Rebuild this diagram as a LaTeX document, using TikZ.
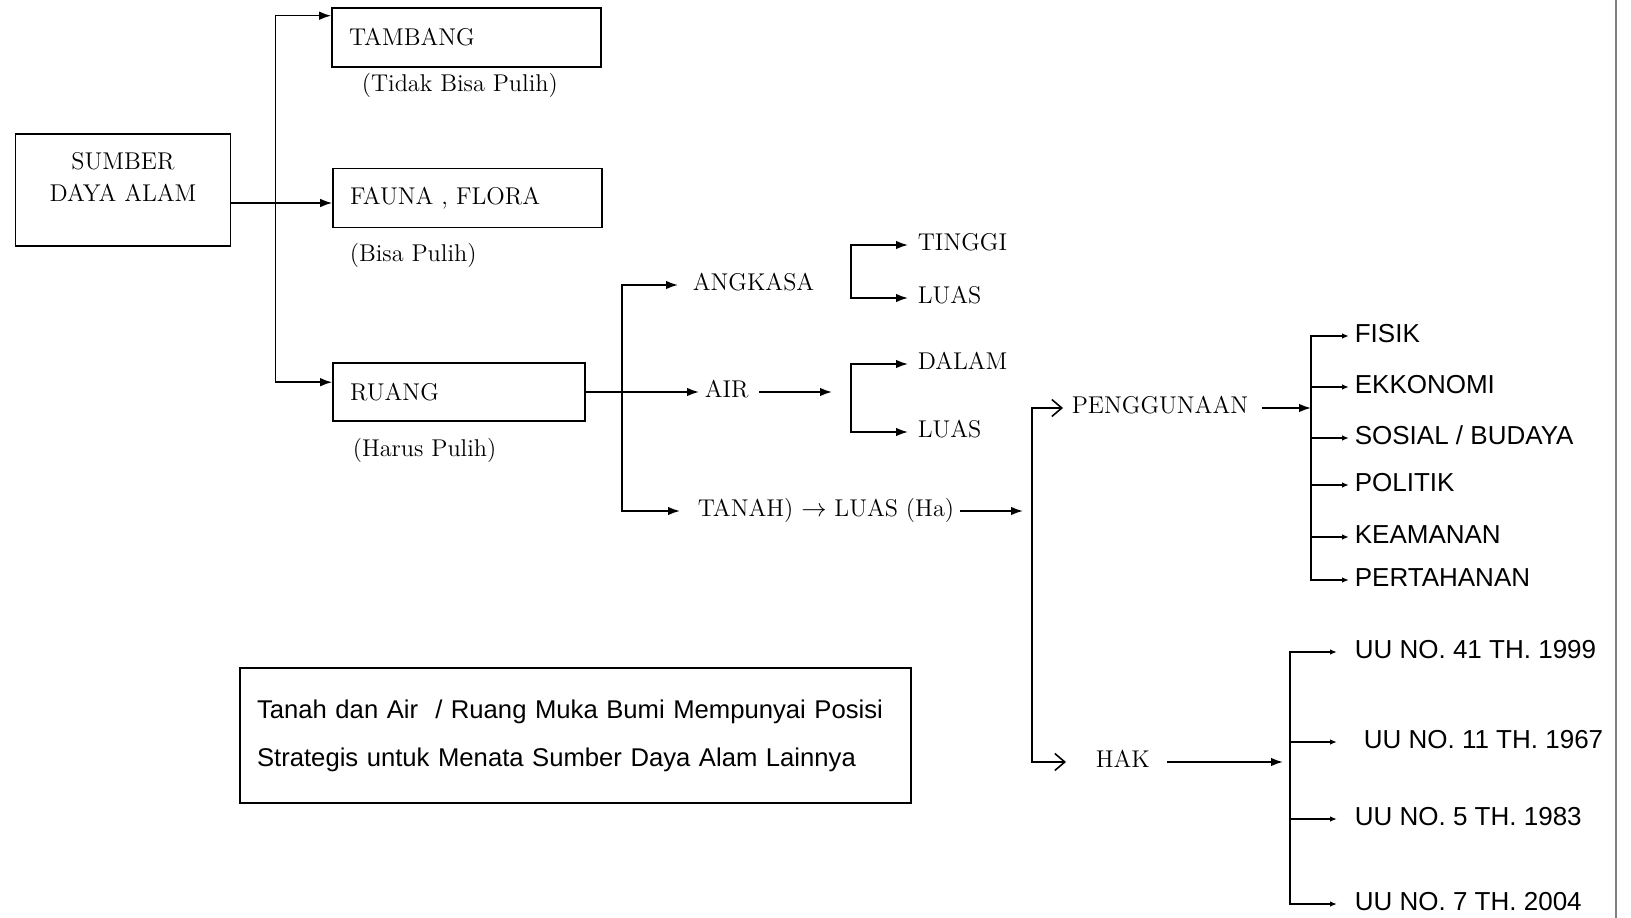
\documentclass[tikz,border=0pt]{standalone}
\usepackage{fontspec}
\newfontfamily\sansfnt{Liberation Sans}
\usetikzlibrary{arrows.meta, positioning, calc}

\tikzset{
  box/.style={draw, inner xsep=0.34cm, align=left, font=\fontsize{13.8}{16}\selectfont},
  lbl/.style={font=\fontsize{13.8}{16}\selectfont, inner sep=0pt, anchor=west, text height=0.68em, text depth=0pt},
  slbl/.style={font=\sansfnt\fontsize{14.8}{17}\selectfont, inner sep=0pt, anchor=west, text height=0.72em, text depth=0pt},
  big/.style={-{Latex[length=2.4mm,width=1.7mm]}},
  small/.style={-{Latex[length=1.4mm,width=1.1mm]}},
  open/.style={-{Straight Barb[length=2mm,width=3.4mm]}},
}

\begin{document}
\begin{tikzpicture}[x=0.02cm, y=-0.02cm, line width=0.9pt]
  \useasboundingbox (0,0) rectangle (1631,918);
  % Main boxes
  \node[box, minimum width=4.3cm, minimum height=2.25cm] (sda) at (123,190) {};
  \node[font=\fontsize{13.8}{18.4}\selectfont, align=center, inner sep=0pt] (sdatxt) at (123,177) {SUMBER\\DAYA ALAM};
  \node[box, text width=4.7cm, minimum height=1.18cm] (tam) at (466.5,37.5) {TAMBANG};
  \node[box, text width=4.7cm, minimum height=1.18cm] (fau) at (467.5,198) {FAUNA , FLORA};
  \node[box, text width=4.36cm, minimum height=1.16cm] (rua) at (459,392) {RUANG};
  \node[lbl] (tamcap) at (361,86) {(Tidak Bisa Pulih)};
  \node[lbl] (faucap) at (349,256) {(Bisa Pulih)};
  \node[lbl] (ruacap) at (352,451) {(Harus Pulih)};
  % Branches of sumber daya alam
  \coordinate (trk) at (275.6,203);
  \draw[big] (sda.east |- trk) -- (fau.west |- trk);
  \draw[big] (trk) |- ([yshift=-0.17cm]tam.north west);
  \draw[big] (trk) |- ([yshift=-0.4cm]rua.north west);
  % Ruang
  \node[lbl] (ang) at (692,285) {ANGKASA};
  \node[lbl] (air) at (704,392) {AIR};
  \node[lbl] (tnh) at (697,511) {TANAH) $\rightarrow$ LUAS (Ha)};
  \coordinate (rj) at (622,392);
  \draw[big] (rua.east) -- ([xshift=-0.1cm]air.west |- rua.east);
  \draw[big] (rj) |- ([xshift=-0.28cm]ang.west);
  \draw[big] (rj) |- ([xshift=-0.34cm]tnh.west);
  % Angkasa and air
  \node[lbl] (tgi) at (917,245) {TINGGI};
  \node[lbl] (lua1) at (917,298) {LUAS};
  \node[lbl] (dal) at (917,364) {DALAM};
  \node[lbl] (lua2) at (917,432) {LUAS};
  \coordinate (angj) at (851,270);
  \coordinate (airj) at (851,392);
  \draw[big] (angj) |- ([xshift=-0.18cm]tgi.west);
  \draw[big] (angj) |- ([xshift=-0.18cm]lua1.west);
  \draw[big] ([xshift=0.2cm]air.east) -- ([xshift=-0.38cm]airj);
  \draw[big] (airj) |- ([xshift=-0.18cm]dal.west);
  \draw[big] (airj) |- ([xshift=-0.18cm]lua2.west);
  % Tanah
  \node[lbl] (pen) at (1071,408) {PENGGUNAAN};
  \node[lbl] (hak) at (1095,762) {HAK};
  \coordinate (tj) at (1032,511);
  \draw[big] ([xshift=0.1cm]tnh.east) -- ([xshift=-0.18cm]tj);
  \draw[open] (tj) |- ([xshift=-0.16cm]pen.west);
  \draw[open] (tj) |- ([xshift=-0.58cm]hak.west);
  % Penggunaan
  \coordinate (pj) at (1311,408);
  \coordinate (pend) at (1349,0);
  \draw[big] ([xshift=0.26cm]pen.east) -- (pj);
  \foreach \i/\y/\txt in {1/336/FISIK, 2/387/EKKONOMI, 3/438/{SOSIAL / BUDAYA},
                          4/485/POLITIK, 5/537/KEAMANAN, 6/580/PERTAHANAN}{
    \node[slbl] (use\i) at (1354,\y) {\txt};
    \draw[small] (pj) |- (use\i.west -| pend);
  }
  % Hak
  \coordinate (hj) at (1290,762);
  \coordinate (hend) at (1337,0);
  \draw[big] ([xshift=0.32cm]hak.east) -- ([xshift=-0.14cm]hj);
  \foreach \i/\x/\y/\txt in {1/1354/652/UU NO. 41 TH. 1999, 2/1363/742/UU NO. 11 TH. 1967,
                             3/1354/819/UU NO. 5 TH. 1983, 4/1354/904/UU NO. 7 TH. 2004}{
    \node[slbl] (uu\i) at (\x,\y) {\txt};
    \draw[small] (hj) |- (uu\i.west -| hend);
  }
  % Note
  \node[box, text width=12.74cm, minimum height=2.7cm, font=\sansfnt\fontsize{14.6}{27.2}\selectfont] (note) at (575.5,735.5)
    {Tanah dan Air \ / Ruang Muka Bumi Mempunyai Posisi\\Strategis untuk Menata Sumber Daya Alam Lainnya};
  % Page edge
  \draw[gray, line width=1pt] (1616,0) -- (1616,918);
\end{tikzpicture}
\end{document}
